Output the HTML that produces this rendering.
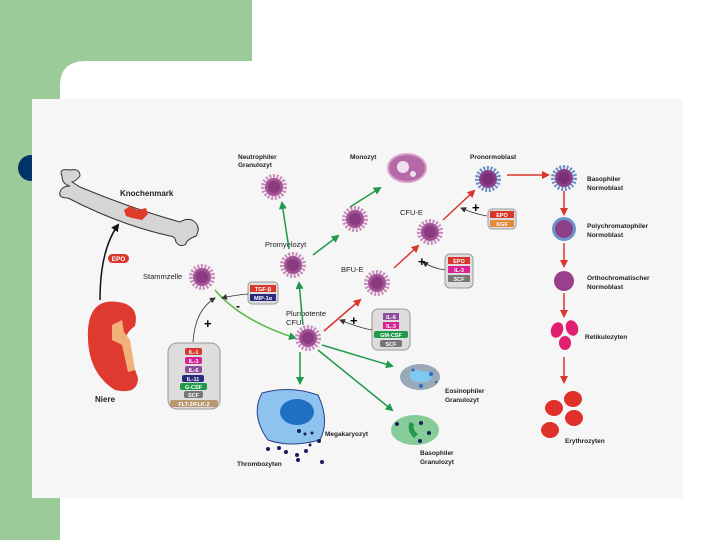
<!DOCTYPE html>
<html><head><meta charset="utf-8"><style>
html,body{margin:0;padding:0;background:#fff;width:720px;height:540px;overflow:hidden}
svg{display:block;font-family:"Liberation Sans",sans-serif}
.t{font-size:7.5px;font-weight:bold;fill:#222}
.p{font-size:6.5px;fill:#fff;text-anchor:middle;font-weight:bold}
</style></head><body>
<svg width="720" height="540" viewBox="0 0 720 540" xmlns="http://www.w3.org/2000/svg">
<defs>
<marker id="ag" markerWidth="8" markerHeight="8" refX="6" refY="4" orient="auto" markerUnits="userSpaceOnUse"><path d="M0,0 L8,4 L0,8z" fill="#1f9a4a"/></marker>
<marker id="ar" markerWidth="8" markerHeight="8" refX="6" refY="4" orient="auto" markerUnits="userSpaceOnUse"><path d="M0,0 L8,4 L0,8z" fill="#d9372b"/></marker>
<marker id="ak" markerWidth="8" markerHeight="8" refX="6" refY="4" orient="auto" markerUnits="userSpaceOnUse"><path d="M0,0 L8,4 L0,8z" fill="#111"/></marker>
<marker id="ad" markerWidth="6" markerHeight="6" refX="5" refY="3" orient="auto" markerUnits="userSpaceOnUse"><path d="M0,0 L6,3 L0,6z" fill="#333"/></marker>
<g id="c"><circle r="11" fill="none" stroke="#c98cbc" stroke-width="4" stroke-dasharray="2 1.6"/><circle r="9" fill="#a25293"/><circle r="6" fill="#8a3a7e"/></g>
<g id="cb"><circle r="11" fill="none" stroke="#6d8fc8" stroke-width="4" stroke-dasharray="2 1.6"/><circle r="9" fill="#8a3f88"/><circle r="6" fill="#7a2f76"/></g>
</defs>
<rect x="0" y="0" width="252" height="100" fill="#9ccb9a"/>
<rect x="0" y="0" width="60" height="540" fill="#9ccb9a"/>
<path d="M60,100 L60,86 Q60,61 86,61 L252,61 L252,100z" fill="#fff"/>
<circle cx="31" cy="168" r="13" fill="#003366"/>
<rect x="32" y="99" width="651" height="399" fill="#f6f6f6"/>

<!-- bone -->
<path d="M62,176 Q58,168 70,170 Q80,168 80,176 Q76,181 72,182 L80,187 Q130,208 180,222 Q186,218 192,220 Q202,226 196,236 Q186,240 186,244 Q180,248 176,242 Q175,236 170,236 Q120,225 68,198 Q58,198 60,192 Q62,186 70,186 Q62,184 62,176z" fill="#d5d5d5" stroke="#333" stroke-width="1"/>
<path d="M124,210 L130,206 L137,210 L146,208 L148,214 L142,220 L132,218 L126,216z" fill="#e03a2a"/>
<text x="120" y="196" class="t" style="font-size:8px">Knochenmark</text>
<path d="M100,300 Q100,250 118,225" fill="none" stroke="#111" stroke-width="1.5" marker-end="url(#ak)"/>
<rect x="108" y="254" width="21" height="9" rx="4.5" fill="#d9372b"/><text x="118.5" y="261" class="p">EPO</text>
<!-- kidney -->
<path d="M118,302 Q90,298 88,330 Q86,372 115,390 Q138,395 138,378 Q132,360 125,350 Q122,335 135,326 Q140,305 118,302z" fill="#df3a30"/>
<path d="M112,325 L122,320 L124,332 L130,340 L135,370 L128,372 L122,345 L112,340z" fill="#f3b17a"/>
<text x="95" y="402" class="t" style="font-size:8px">Niere</text>

<text x="143" y="279" class="t" style="font-weight:normal">Stammzelle</text>
<use href="#c" x="202" y="277"/>
<path d="M215,290 Q240,320 295,338" fill="none" stroke="#5cb848" stroke-width="1.5" marker-end="url(#ag)"/>
<rect x="248" y="282" width="30" height="22" rx="4" fill="#ddd" stroke="#999"/>
<rect x="250" y="285" width="26" height="7" fill="#d9372b"/><text x="263" y="291" class="p" style="font-size:5.5px">TGF-β</text>
<rect x="250" y="294" width="26" height="7" fill="#2a2a7a"/><text x="263" y="300" class="p" style="font-size:5.5px">MIP-1α</text>
<path d="M248,294 Q235,295 222,298" fill="none" stroke="#333" stroke-width="0.8" marker-end="url(#ad)"/>
<text x="236" y="310" style="font-size:12px;font-weight:bold">-</text>
<rect x="168" y="343" width="52" height="66" rx="9" fill="#ddd" stroke="#999"/>
<rect x="185" y="348" width="17" height="7" rx="2" fill="#d9372b"/><text x="193.5" y="354" class="p" style="font-size:5.5px">IL-1</text>
<rect x="185" y="357" width="17" height="7" rx="2" fill="#d6238f"/><text x="193.5" y="363" class="p" style="font-size:5.5px">IL-3</text>
<rect x="185" y="366" width="17" height="7" rx="2" fill="#8a4f98"/><text x="193.5" y="372" class="p" style="font-size:5.5px">IL-6</text>
<rect x="182" y="375" width="22" height="7" rx="2" fill="#2a2a7a"/><text x="193" y="381" class="p" style="font-size:5.5px">IL-11</text>
<rect x="180" y="383" width="27" height="7" rx="2" fill="#1f9a4a"/><text x="193.5" y="389" class="p" style="font-size:5.5px">G-CSF</text>
<rect x="184" y="391" width="19" height="7" rx="2" fill="#777"/><text x="193.5" y="397" class="p" style="font-size:5.5px">SCF</text>
<rect x="170" y="400" width="48" height="7" rx="2" fill="#b99870"/><text x="194" y="406" class="p" style="font-size:5.5px">FLT-3/FLK-2</text>
<path d="M193,342 Q195,310 215,298" fill="none" stroke="#333" stroke-width="0.8" marker-end="url(#ad)"/>
<text x="204" y="328" style="font-size:13px;font-weight:bold">+</text>

<text x="286" y="316" class="t" style="font-weight:normal">Pluripotente</text><text x="286" y="325" class="t" style="font-weight:normal">CFU</text>
<use href="#c" x="308" y="338"/>
<text x="265" y="247" class="t" style="font-weight:normal">Promyelozyt</text>
<use href="#c" x="293" y="265"/>
<line x1="303" y1="325" x2="299" y2="283" stroke="#1f9a4a" stroke-width="1.5" marker-end="url(#ag)"/>
<text x="238" y="159" class="t" style="font-size:6.5px">Neutrophiler</text><text x="238" y="167" class="t" style="font-size:6.5px">Granulozyt</text>
<use href="#c" x="274" y="187"/>
<line x1="289" y1="249" x2="282" y2="203" stroke="#1f9a4a" stroke-width="1.5" marker-end="url(#ag)"/>
<line x1="313" y1="255" x2="338" y2="236" stroke="#1f9a4a" stroke-width="1.5" marker-end="url(#ag)"/>
<use href="#c" x="355" y="219"/>
<line x1="350" y1="207" x2="380" y2="188" stroke="#1f9a4a" stroke-width="1.5" marker-end="url(#ag)"/>
<text x="350" y="159" class="t" style="font-size:6.5px">Monozyt</text>
<ellipse cx="407" cy="168" rx="19" ry="14" fill="#b56aa8" stroke="#d9a0cc" stroke-width="2"/>
<circle cx="403" cy="167" r="6" fill="#f0e0ee"/><circle cx="413" cy="174" r="3" fill="#f0e0ee"/>

<text x="341" y="272" class="t" style="font-weight:normal">BFU-E</text>
<use href="#c" x="377" y="283"/>
<line x1="324" y1="331" x2="360" y2="300" stroke="#d9372b" stroke-width="1.5" marker-end="url(#ar)"/>
<rect x="372" y="309" width="38" height="41" rx="6" fill="#ddd" stroke="#999"/>
<rect x="383" y="313" width="16" height="7" fill="#8a4f98"/><text x="391" y="319" class="p" style="font-size:5.5px">IL-6</text>
<rect x="383" y="322" width="16" height="7" fill="#d6238f"/><text x="391" y="328" class="p" style="font-size:5.5px">IL-3</text>
<rect x="374" y="331" width="34" height="7" rx="2" fill="#1f9a4a"/><text x="391" y="337" class="p" style="font-size:5.5px">GM-CSF</text>
<rect x="380" y="340" width="22" height="7" rx="2" fill="#777"/><text x="391" y="346" class="p" style="font-size:5.5px">SCF</text>
<path d="M372,330 Q360,328 340,320" fill="none" stroke="#333" stroke-width="0.8" marker-end="url(#ad)"/>
<text x="350" y="325" style="font-size:13px;font-weight:bold">+</text>

<text x="400" y="215" class="t" style="font-weight:normal">CFU-E</text>
<use href="#c" x="430" y="232"/>
<line x1="394" y1="268" x2="418" y2="246" stroke="#d9372b" stroke-width="1.5" marker-end="url(#ar)"/>
<rect x="445" y="254" width="28" height="34" rx="5" fill="#ddd" stroke="#999"/>
<rect x="448" y="257" width="22" height="7" fill="#d9372b"/><text x="459" y="263" class="p" style="font-size:5.5px">EPO</text>
<rect x="448" y="266" width="22" height="7" fill="#d6238f"/><text x="459" y="272" class="p" style="font-size:5.5px">IL-3</text>
<rect x="448" y="275" width="22" height="7" fill="#777"/><text x="459" y="281" class="p" style="font-size:5.5px">SCF</text>
<path d="M445,270 Q432,268 423,262" fill="none" stroke="#333" stroke-width="0.8" marker-end="url(#ad)"/>
<text x="418" y="266" style="font-size:13px;font-weight:bold">+</text>

<text x="470" y="159" class="t" style="font-size:6.5px">Pronormoblast</text>
<use href="#cb" x="488" y="179"/>
<line x1="443" y1="220" x2="474" y2="191" stroke="#d9372b" stroke-width="1.5" marker-end="url(#ar)"/>
<rect x="488" y="209" width="28" height="20" rx="4" fill="#ddd" stroke="#999"/>
<rect x="490" y="211" width="24" height="7" fill="#d9372b"/><text x="502" y="217" class="p" style="font-size:5.5px">EPO</text>
<rect x="490" y="220" width="24" height="7" fill="#e08a3a"/><text x="502" y="226" class="p" style="font-size:5.5px">KGF</text>
<path d="M487,216 Q475,214 461,208" fill="none" stroke="#333" stroke-width="0.8" marker-end="url(#ad)"/>
<text x="472" y="212" style="font-size:13px;font-weight:bold">+</text>
<line x1="507" y1="175" x2="548" y2="175" stroke="#d9372b" stroke-width="1.5" marker-end="url(#ar)"/>

<use href="#cb" x="564" y="178"/>
<text x="587" y="181" class="t" style="font-size:6.5px">Basophiler</text><text x="587" y="190" class="t" style="font-size:6.5px">Normoblast</text>
<line x1="564" y1="191" x2="564" y2="214" stroke="#d9372b" stroke-width="1.5" marker-end="url(#ar)"/>
<circle cx="564" cy="229" r="12" fill="#6d95cc"/><circle cx="564" cy="229" r="9" fill="#8a3f88"/>
<text x="587" y="228" class="t" style="font-size:6.5px">Polychromatophiler</text><text x="587" y="237" class="t" style="font-size:6.5px">Normoblast</text>
<line x1="564" y1="243" x2="564" y2="266" stroke="#d9372b" stroke-width="1.5" marker-end="url(#ar)"/>
<circle cx="564" cy="281" r="10" fill="#9a3f8c"/>
<text x="587" y="280" class="t" style="font-size:6.5px">Orthochromatischer</text><text x="587" y="289" class="t" style="font-size:6.5px">Normoblast</text>
<line x1="564" y1="293" x2="564" y2="316" stroke="#d9372b" stroke-width="1.5" marker-end="url(#ar)"/>
<ellipse cx="557" cy="330" rx="6" ry="8" fill="#e0206f" transform="rotate(20 557 330)"/>
<ellipse cx="572" cy="328" rx="6" ry="8" fill="#e0206f" transform="rotate(-20 572 328)"/>
<ellipse cx="565" cy="343" rx="6" ry="7" fill="#e0206f"/>
<text x="585" y="339" class="t" style="font-size:6.5px">Retikulozyten</text>
<line x1="564" y1="357" x2="564" y2="382" stroke="#d9372b" stroke-width="1.5" marker-end="url(#ar)"/>
<ellipse cx="573" cy="399" rx="9" ry="8" fill="#e0302a"/>
<ellipse cx="554" cy="408" rx="9" ry="8" fill="#e0302a"/>
<ellipse cx="574" cy="418" rx="9" ry="8" fill="#e0302a"/>
<ellipse cx="550" cy="430" rx="9" ry="8" fill="#e0302a"/>
<text x="565" y="443" class="t" style="font-size:6.5px">Erythrozyten</text>

<line x1="300" y1="352" x2="300" y2="383" stroke="#1f9a4a" stroke-width="1.5" marker-end="url(#ag)"/>
<line x1="322" y1="345" x2="392" y2="366" stroke="#1f9a4a" stroke-width="1.5" marker-end="url(#ag)"/>
<line x1="318" y1="350" x2="392" y2="410" stroke="#1f9a4a" stroke-width="1.5" marker-end="url(#ag)"/>
<path d="M262,393 Q290,385 318,395 Q330,420 320,440 Q290,448 268,440 Q250,415 262,393z" fill="#8ec3ef" stroke="#2a3f8a" stroke-width="1"/>
<ellipse cx="297" cy="412" rx="17" ry="13" fill="#1f6fc2"/>
<g fill="#1c1c5a"><circle cx="299" cy="431" r="2"/><circle cx="305" cy="434" r="1.5"/><circle cx="312" cy="433" r="1.5"/><circle cx="319" cy="441" r="2"/><circle cx="268" cy="449" r="2"/><circle cx="279" cy="448" r="2"/><circle cx="286" cy="452" r="2"/><circle cx="297" cy="455" r="2"/><circle cx="306" cy="451" r="2"/><circle cx="298" cy="460" r="2"/><circle cx="322" cy="462" r="2"/><circle cx="310" cy="445" r="1.5"/></g>
<text x="325" y="436" class="t" style="font-size:6.5px">Megakaryozyt</text>
<text x="237" y="466" class="t" style="font-size:6.5px">Thrombozyten</text>
<ellipse cx="420" cy="377" rx="20" ry="13" fill="#9aa8b8"/>
<path d="M410,372 Q418,368 424,372 Q432,370 432,378 Q428,384 418,382 Q408,382 410,372z" fill="#7fc8ee"/>
<g fill="#2a6fbf"><circle cx="413" cy="370" r="1.5"/><circle cx="431" cy="374" r="2"/><circle cx="421" cy="386" r="2"/><circle cx="436" cy="382" r="1.2"/></g>
<text x="445" y="393" class="t" style="font-size:6.5px">Eosinophiler</text><text x="445" y="402" class="t" style="font-size:6.5px">Granulozyt</text>
<ellipse cx="415" cy="430" rx="24" ry="15" fill="#86cc98"/>
<path d="M410,422 Q406,430 414,438 L418,434 Q412,430 414,424z" fill="#1f9a4a"/>
<g fill="#1c1c5a"><circle cx="397" cy="424" r="2"/><circle cx="421" cy="423" r="2"/><circle cx="429" cy="433" r="2"/><circle cx="420" cy="441" r="2"/></g>
<text x="420" y="455" class="t" style="font-size:6.5px">Basophiler</text><text x="420" y="464" class="t" style="font-size:6.5px">Granulozyt</text>
</svg>
</body></html>
